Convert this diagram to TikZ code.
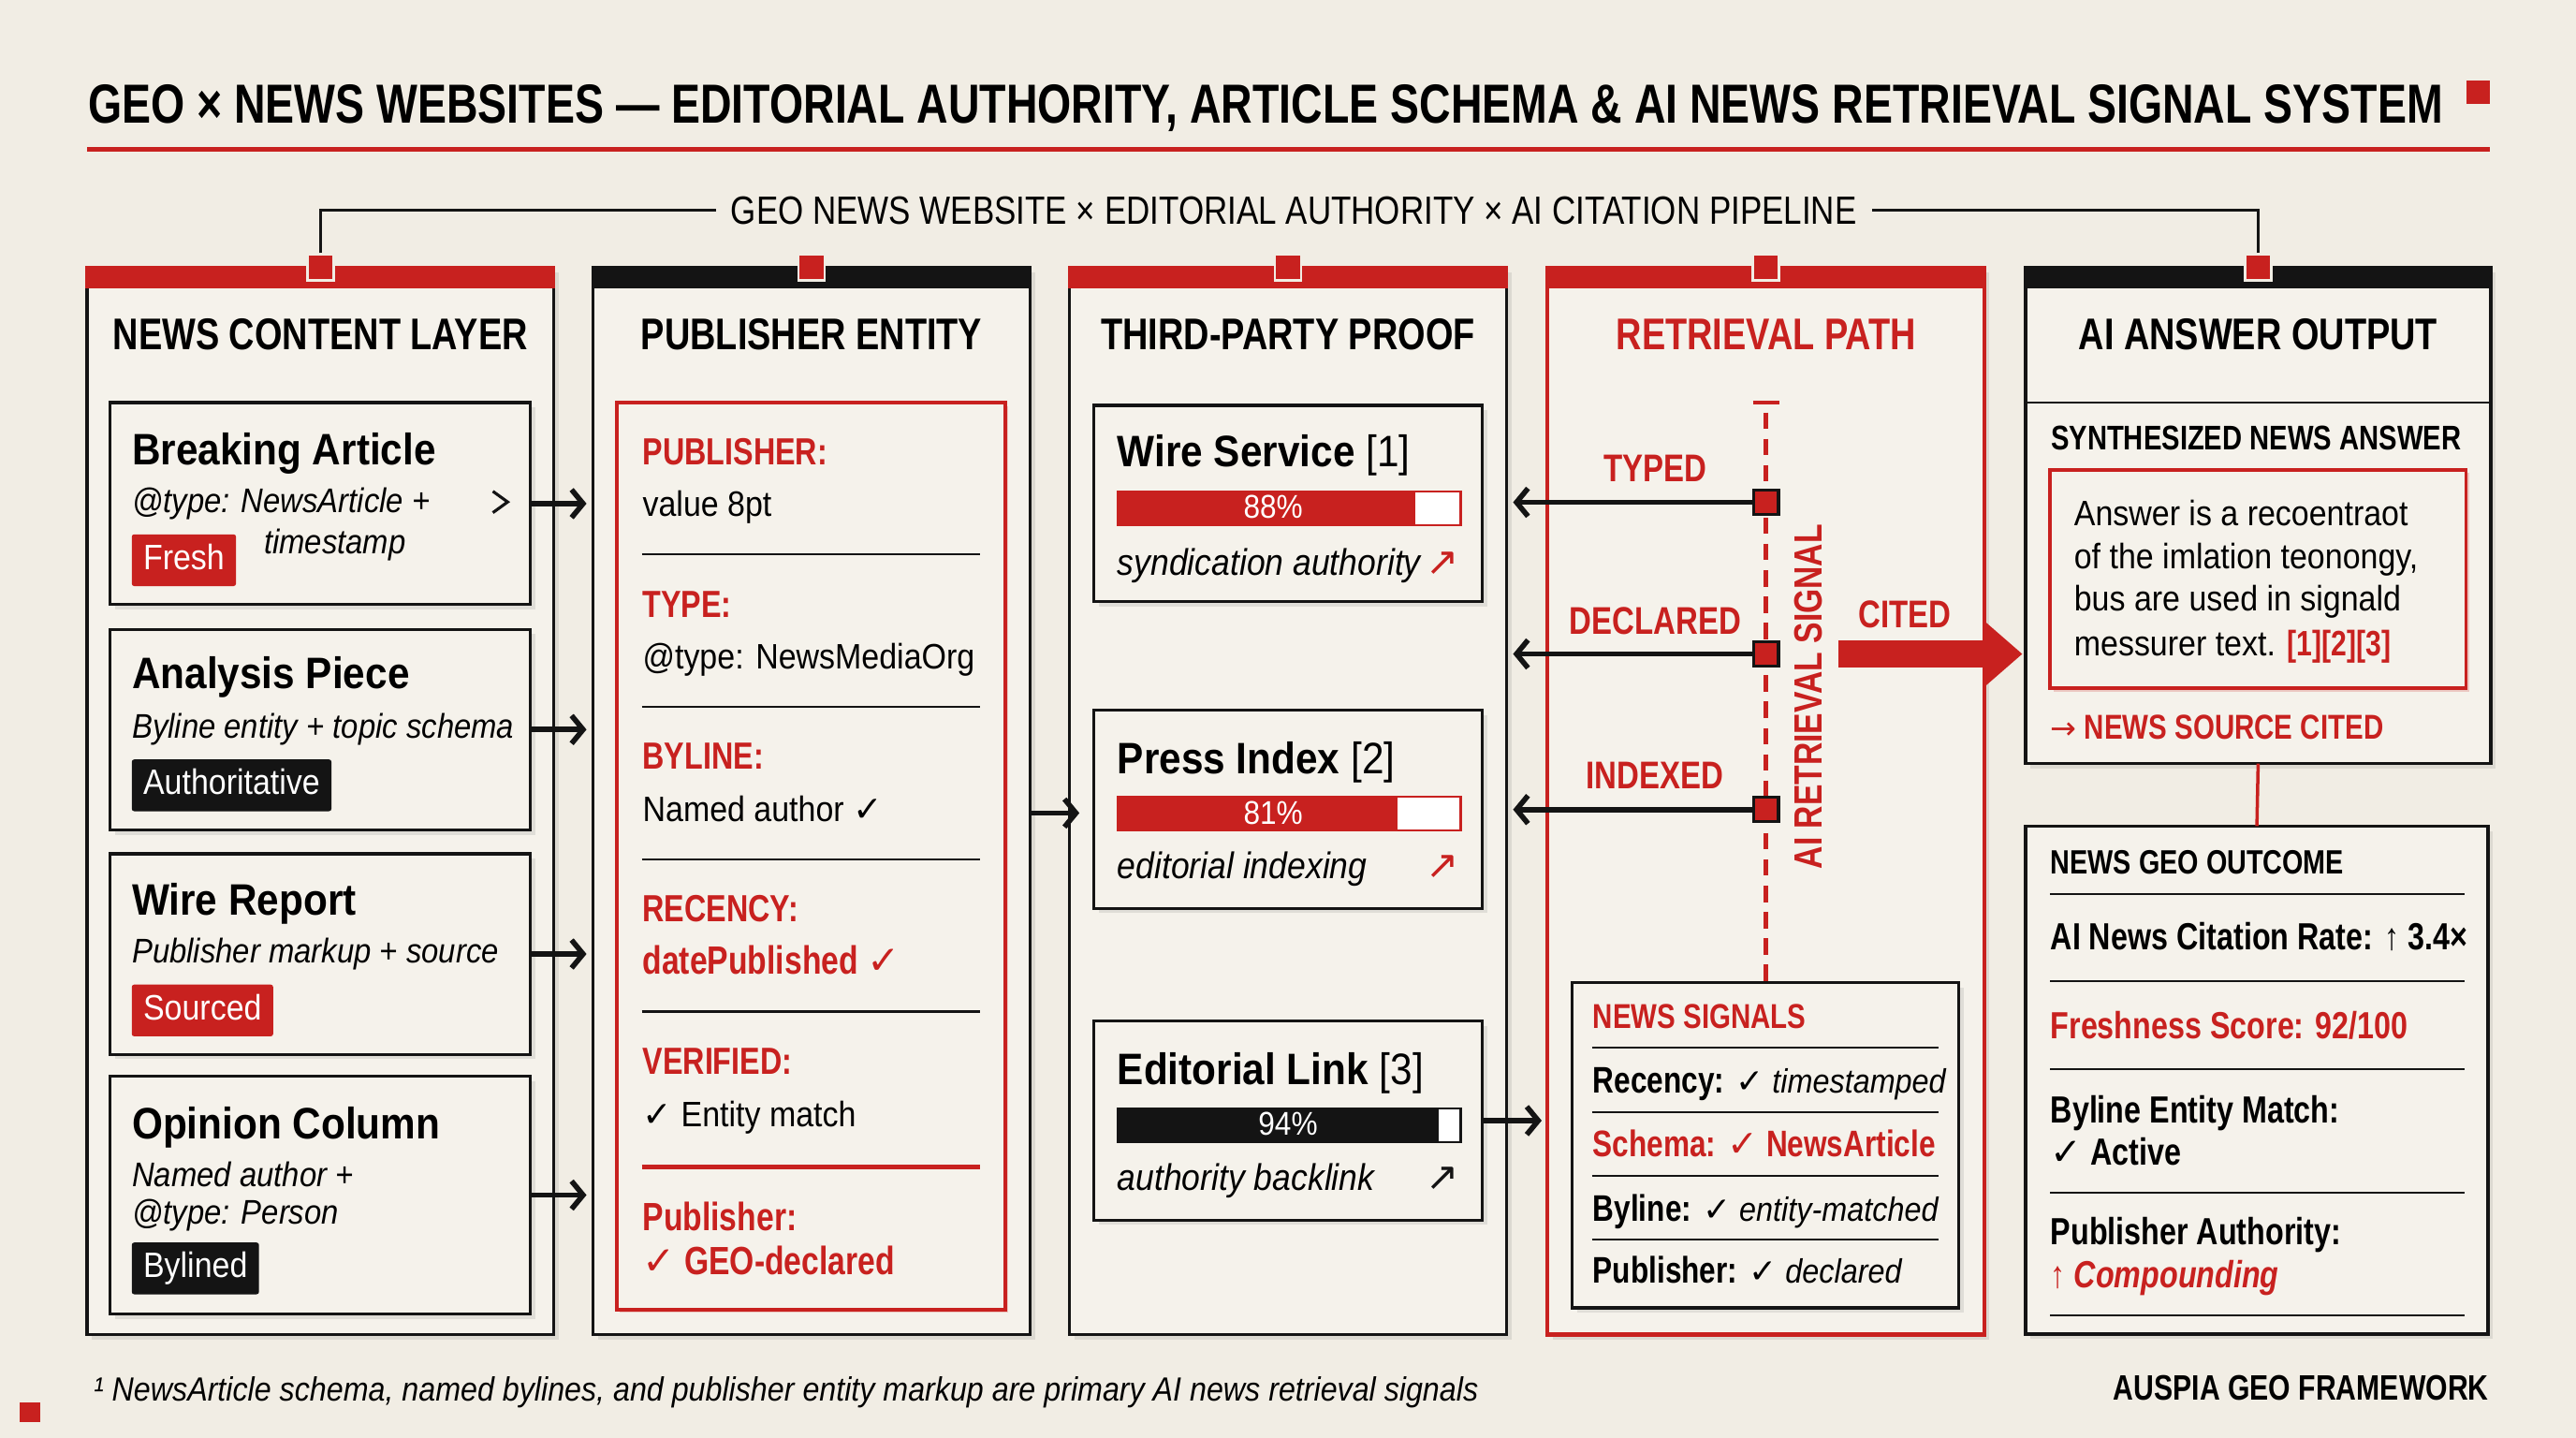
\documentclass[tikz,border=0pt]{standalone}
\usepackage{fontspec}
\setmainfont{Liberation Sans}[FakeStretch=0.9]
\newfontfamily\headfont{Liberation Sans}[FakeStretch=0.8]
\newfontfamily\titlefont{Liberation Sans}[FakeStretch=0.79]
\newfontfamily\subfont{Liberation Sans}[FakeStretch=0.83]
\newfontfamily\symfont{DejaVu Sans}
\usetikzlibrary{positioning,shadows,arrows.meta}
\definecolor{paper}{HTML}{F1EDE4}
\definecolor{card}{HTML}{F5F2EB}
\definecolor{geored}{HTML}{C8211F}
\definecolor{ink}{HTML}{141414}
\newcommand{\fsz}[1]{\fontsize{#1}{#1}\selectfont}
\newcommand{\chk}{{\symfont\bfseries ✓}}
\newcommand{\uparr}{{\symfont ↗}}

\begin{document}
\begin{tikzpicture}[x=1pt,y=-1pt,
  >={Straight Barb[length=7pt,width=17pt]},
  softshadow/.style={drop shadow={shadow xshift=3pt,shadow yshift=-3pt,opacity=0.18}},
  colbox/.style={draw=ink,line width=2pt,fill=card,inner sep=0pt,outer sep=0pt,softshadow},
  card/.style={draw=ink,line width=1.8pt,fill=card,inner sep=0pt,softshadow},
  redbox/.style={draw=geored,line width=2.2pt,fill=card,inner sep=0pt,
    drop shadow={shadow xshift=2pt,shadow yshift=-2pt,opacity=0.2,fill=geored}},
  marker/.style={fill=geored,draw=paper,line width=1.5pt,minimum size=16pt,inner sep=0pt},
  txt/.style={anchor=base west,inner sep=0pt},
  colhead/.style={anchor=base,inner sep=0pt,font=\headfont\bfseries\fsz{27}},
  cardttl/.style={txt,font=\bfseries\fsz{26.8}},
  cardnote/.style={txt,font=\itshape\fsz{20.8}},
  tag/.style={anchor=north west,fill=#1,text=white,font=\fsz{21.5},inner xsep=7pt,inner ysep=0pt,
    minimum height=31.5pt,text height=15.5pt,text depth=4pt,rounded corners=1.5pt},
  fieldkey/.style={txt,text=geored,font=\headfont\bfseries\fsz{23}},
  fieldval/.style={txt,font=\fsz{21.5}},
  redval/.style={txt,text=geored,font=\headfont\bfseries\fsz{24}},
  divider/.style={draw=ink,line width=1.3pt},
  arr/.style={->,draw=ink,line width=3.2pt},
  meter/.style={draw=#1,fill=white,line width=1.3pt,minimum width=209pt,minimum height=20.5pt,
    inner sep=0pt,anchor=north west},
  pct/.style={text=white,font=\fsz{20},inner sep=0pt},
  proofnote/.style={txt,font=\itshape\fsz{22.5}},
  trend/.style={anchor=base east,inner sep=0pt,font=\fsz{24}},
  lane/.style={anchor=base,inner sep=0pt,text=geored,font=\headfont\bfseries\fsz{23.5}},
  sqnode/.style={fill=geored,draw=ink,line width=1.8pt,minimum size=15pt,inner sep=0pt},
  sigrow/.style={txt,font=\fsz{20.5}},
  outrow/.style={txt,font=\headfont\bfseries\fsz{23}}]

\useasboundingbox (0,0) rectangle (1568,875);
\fill[paper] (0,0) rectangle (1568,875);

% title
\node[txt,font=\titlefont\bfseries\fsz{33.5}] (title) at (53.4,75.2)
  {GEO × NEWS WEBSITES — EDITORIAL AUTHORITY, ARTICLE SCHEMA \& AI NEWS RETRIEVAL SIGNAL SYSTEM};
\node[fill=geored,minimum size=14pt,inner sep=0pt] (tsq) at (1508.5,56) {};
\draw[geored,line width=3pt] (53,90.8) -- (1515.6,90.8);

% columns
\node[colbox,minimum width=284pt,minimum height=649.5pt] (c1) at (195,487.5) {};
\node[colbox,minimum width=266pt,minimum height=649.5pt,right=24pt of c1] (c2) {};
\node[colbox,minimum width=266pt,minimum height=649.5pt,right=24pt of c2] (c3) {};
\node[colbox,draw=geored,line width=2.4pt,minimum width=266pt,minimum height=649.5pt,right=25pt of c3] (c4) {};
\node[colbox,minimum width=283pt,minimum height=302pt,right=25pt of c4.north east,anchor=north west] (c5) {};
\node[colbox,minimum width=281.5pt,minimum height=309.25pt,below=38pt of c5.south west,anchor=north west] (outc) {};

\fill[geored] ([xshift=-1pt,yshift=1pt]c1.north west) rectangle ([xshift=1pt,yshift=-12.5pt]c1.north east);
\fill[ink] ([xshift=-1pt,yshift=1pt]c2.north west) rectangle ([xshift=1pt,yshift=-12.5pt]c2.north east);
\fill[geored] ([xshift=-1pt,yshift=1pt]c3.north west) rectangle ([xshift=1pt,yshift=-12.5pt]c3.north east);
\fill[geored] ([xshift=-1.2pt,yshift=1.2pt]c4.north west) rectangle ([xshift=1.2pt,yshift=-12.5pt]c4.north east);
\fill[ink] ([xshift=-1pt,yshift=1pt]c5.north west) rectangle ([xshift=1pt,yshift=-12.5pt]c5.north east);

\node[marker] (mk1) at (c1.north) {};
\node[marker] (mk2) at (c2.north) {};
\node[marker] (mk3) at (c3.north) {};
\node[marker] (mk4) at (c4.north) {};
\node[marker] (mk5) at (c5.north) {};

% pipeline bracket
\node[anchor=base,inner xsep=9pt,font=\subfont\fsz{24}] (sub) at (787.5,136.4)
  {GEO NEWS WEBSITE × EDITORIAL AUTHORITY × AI CITATION PIPELINE};
\draw[ink,line width=1.6pt] (mk1.north) |- (sub.west);
\draw[ink,line width=1.6pt] (mk5.north) |- (sub.east);

\node[colhead] (h1) at (195,213) {NEWS CONTENT LAYER};
\node[colhead] (h2) at (494,213) {PUBLISHER ENTITY};
\node[colhead] (h3) at (784,213) {THIRD-PARTY PROOF};
\node[colhead,text=geored] (h4) at (1075,213) {RETRIEVAL PATH};
\node[colhead] (h5) at (1374.5,213) {AI ANSWER OUTPUT};

% news content layer
\node[card,minimum width=256pt,minimum height=123pt] (art1) at (195,306.5) {};
\node[card,minimum width=256pt,minimum height=122pt] (art2) at (195,444) {};
\node[card,minimum width=256pt,minimum height=122pt] (art3) at (195,580.6) {};
\node[card,minimum width=256pt,minimum height=144.5pt] (art4) at (195,727.3) {};

\node[cardttl] (art1t) at (80.2,283) {Breaking Article};
\node[cardnote] (art1n) at (80.2,312) {@type: NewsArticle +};
\node[cardnote] (art1m) at (160.5,337) {timestamp};
\node[tag=geored] (art1g) at (80,325) {Fresh};
\draw[ink,line width=1.8pt] (300,299) -- (309,305.5) -- (300,312);

\node[cardttl] (art2t) at (80.2,419) {Analysis Piece};
\node[cardnote] (art2n) at (80.2,449) {Byline entity + topic schema};
\node[tag=ink] (art2g) at (80,462) {Authoritative};

\node[cardttl] (art3t) at (80.2,557) {Wire Report};
\node[cardnote] (art3n) at (80.2,586) {Publisher markup + source};
\node[tag=geored] (art3g) at (80,599) {Sourced};

\node[cardttl] (art4t) at (80.2,693) {Opinion Column};
\node[cardnote] (art4n) at (80.2,722) {Named author +};
\node[cardnote] (art4m) at (80.2,745) {@type: Person};
\node[tag=ink] (art4g) at (80,756) {Bylined};

\draw[arr] (art1.east) -- ([xshift=-4pt]art1.east -| c2.west);
\draw[arr] (art2.east) -- ([xshift=-4pt]art2.east -| c2.west);
\draw[arr] (art3.east) -- ([xshift=-4pt]art3.east -| c2.west);
\draw[arr] (art4.east) -- ([xshift=-4pt]art4.east -| c2.west);

% publisher entity
\node[redbox,minimum width=236.4pt,minimum height=552pt] (pub) at (493.6,521) {};
\node[fieldkey] (k1) at (391,283) {PUBLISHER:};
\node[fieldval] (v1) at (391,314) {value 8pt};
\draw[divider] (390.7,337.4) -- (596.7,337.4);
\node[fieldkey] (k2) at (391,376) {TYPE:};
\node[fieldval] (v2) at (391,407) {@type: NewsMediaOrg};
\draw[divider] (390.7,430) -- (596.7,430);
\node[fieldkey] (k3) at (391,468) {BYLINE:};
\node[fieldval] (byl) at (391,500) {Named author \chk};
\draw[divider] (390.7,523) -- (596.7,523);
\node[fieldkey] (k4) at (391,561) {RECENCY:};
\node[redval] (v4) at (391,593) {datePublished \chk};
\draw[divider] (390.7,615.6) -- (596.7,615.6);
\node[fieldkey] (k5) at (391,654) {VERIFIED:};
\node[fieldval] (v5) at (391,685.6) {\chk\ Entity match};
\draw[geored,line width=3pt] (390.7,710) -- (596.7,710);
\node[redval] (k6) at (391,749) {Publisher:};
\node[redval] (v6) at (391,776) {\chk\ GEO-declared};

\coordinate (j2) at ([yshift=-2.5pt]byl.west -| c2.east);
\draw[arr] (j2) -- ([xshift=6pt]j2 -| c3.west);

% third-party proof
\node[card,minimum width=236.4pt,minimum height=119.3pt] (ws) at (784.2,306.4) {};
\node[card,minimum width=236.4pt,minimum height=120.7pt] (pi) at (784.2,492.4) {};
\node[card,minimum width=236.4pt,minimum height=121pt] (el) at (784.2,682) {};

\node[cardttl] (wst) at (680,284) {Wire Service {\mdseries[1]}};
\node[meter=geored] (m1) at (679.5,298.4) {};
\fill[geored] (m1.north west) rectangle (861.5,318.9);
\node[pct] (p1) at (775,308.7) {88\%};
\node[proofnote] (wsn) at (680,350) {syndication authority};
\node[trend,text=geored] (wsa) at (888.5,350) {\uparr};

\node[cardttl] (pit) at (680,471) {Press Index {\mdseries[2]}};
\node[meter=geored] (m2) at (679.5,484.4) {};
\fill[geored] (m2.north west) rectangle (850.4,504.9);
\node[pct] (p2) at (775,494.6) {81\%};
\node[proofnote] (pin) at (680,534.7) {editorial indexing};
\node[trend,text=geored] (pia) at (888.5,535) {\uparr};

\node[cardttl] (elt) at (680,660) {Editorial Link {\mdseries[3]}};
\node[meter=ink] (m3) at (679.5,673.8) {};
\fill[ink] (m3.north west) rectangle (876,694.3);
\node[pct] (p3) at (784,684) {94\%};
\node[proofnote] (eln) at (680,724.3) {authority backlink};
\node[trend,text=ink] (ela) at (888.5,724.5) {\uparr};

\draw[arr] (el.east) -- ([xshift=-3.6pt]el.east -| c4.west);

% retrieval path
\coordinate (rtop) at (1075,245);
\node[card,minimum width=235.6pt,minimum height=198pt] (sig) at (1074.6,697) {};
\draw[geored,line width=2.6pt,dash pattern=on 10pt off 6pt] ([yshift=-6pt]rtop) -- (rtop |- sig.north);
\draw[geored,line width=2.2pt] ([xshift=-8pt]rtop) -- ([xshift=8pt]rtop);

\node[sqnode] (sq1) at (1075,305.7) {};
\node[sqnode] (sq2) at (1075,398) {};
\node[sqnode] (sq3) at (1075,492.7) {};
\draw[arr] (sq1.west) -- ([xshift=4pt]sq1.west -| c3.east);
\draw[arr] (sq2.west) -- ([xshift=4pt]sq2.west -| c3.east);
\draw[arr] (sq3.west) -- ([xshift=4pt]sq3.west -| c3.east);

\node[lane] (typed) at (1007.5,293) {TYPED};
\node[lane] (decl) at (1007.7,386) {DECLARED};
\node[lane] (indx) at (1007.4,480) {INDEXED};
\node[rotate=90,inner sep=0pt,text=geored,font=\headfont\bfseries\fsz{24}] (aisig) at (1101,424) {AI RETRIEVAL SIGNAL};
\node[lane] (cited) at (1159.3,382) {CITED};
\draw[geored,line width=16pt,-{Triangle[length=24pt,width=40pt]}] ([xshift=35.5pt]sq2.east) -- ([xshift=-2pt]sq2.east -| c5.west);

\node[txt,text=geored,font=\headfont\bfseries\fsz{21}] (sigt) at (969.4,626) {NEWS SIGNALS};
\draw[divider] (969,637.6) -- (1180,637.6);
\node[sigrow] (s1) at (969.4,665) {{\headfont\bfseries\fsz{22.5}Recency:} \chk\ \textit{timestamped}};
\draw[divider] (969,677) -- (1180,677);
\node[sigrow,text=geored] (s2) at (969.4,704) {{\headfont\bfseries\fsz{22.5}Schema: \chk\ NewsArticle}};
\draw[divider] (969,715.7) -- (1180,715.7);
\node[sigrow] (s3) at (969.4,743) {{\headfont\bfseries\fsz{22.5}Byline:} \chk\ \textit{entity-matched}};
\draw[divider] (969,754.4) -- (1180,754.4);
\node[sigrow] (s4) at (969.4,781) {{\headfont\bfseries\fsz{22.5}Publisher:} \chk\ \textit{declared}};

% ai answer output
\draw[ink,line width=1.6pt] (1233,245) -- (1516,245);
\node[txt,font=\headfont\bfseries\fsz{20.8}] (synt) at (1248.2,273.5) {SYNTHESIZED NEWS ANSWER};
\node[redbox,minimum width=253pt,minimum height=133pt] (ans) at (1374.5,352.3) {};
\node[fieldval] (a1) at (1262.3,320) {Answer is a recoentraot};
\node[fieldval] (a2) at (1262.3,346) {of the imlation teonongy,};
\node[fieldval] (a3) at (1262.3,372) {bus are used in signald};
\node[fieldval] (a4) at (1262.3,399) {messurer text. {\headfont\bfseries\color{geored}[1][2][3]}};
\node[txt,text=geored,font=\headfont\bfseries\fsz{21}] (srcc) at (1248,449.6) {{\symfont\mdseries\fsz{19}→} NEWS SOURCE CITED};

\draw[geored,line width=2pt] (c5.south) -- (outc.north);

\node[txt,font=\headfont\bfseries\fsz{20.5}] (outt) at (1248,532) {NEWS GEO OUTCOME};
\draw[divider] (1248,544) -- (1500,544);
\node[outrow] (o1) at (1248,578) {AI News Citation Rate: ↑ 3.4×};
\draw[divider] (1248,597) -- (1500,597);
\node[outrow,text=geored] (o2) at (1248,632) {Freshness Score: 92/100};
\draw[divider] (1248,650.8) -- (1500,650.8);
\node[outrow] (o3) at (1248,683.6) {Byline Entity Match:};
\node[outrow] (o3b) at (1248,709) {\chk\ Active};
\draw[divider] (1248,725.8) -- (1500,725.8);
\node[outrow] (o4) at (1248,757.7) {Publisher Authority:};
\node[outrow,text=geored] (o4b) at (1248,783.5) {↑ \textit{Compounding}};
\draw[divider] (1248,800.5) -- (1500,800.5);

% footer
\node[txt,font=\itshape\fsz{20.4}] (foot) at (56.8,852.5)
  {¹ NewsArticle schema, named bylines, and publisher entity markup are primary AI news retrieval signals};
\node[anchor=base east,inner sep=0pt,font=\headfont\bfseries\fsz{21.5}] (brand) at (1515,852.3) {AUSPIA GEO FRAMEWORK};
\node[fill=geored,minimum size=12.5pt,inner sep=0pt] (corner) at (18,859.5) {};
\end{tikzpicture}
\end{document}
